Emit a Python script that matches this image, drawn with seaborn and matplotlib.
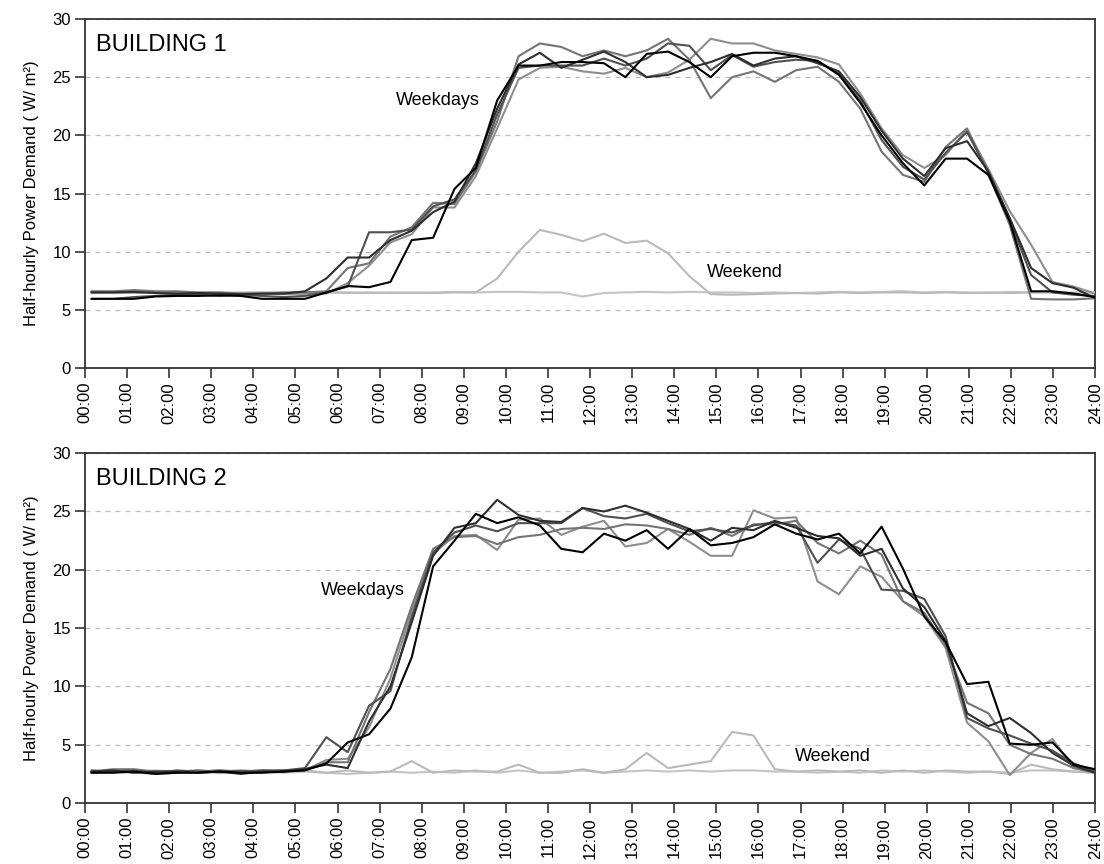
import numpy as np
import pandas as pd
import matplotlib
matplotlib.use("Agg")
import matplotlib.pyplot as plt
import seaborn as sns

# ---- data: 48 half-hourly readings per day (W/m2) ----
hour_labels = [f"{h:02d}:00" for h in range(25)]

b1_day1 = [5.95, 5.95, 5.95, 6.15, 6.2, 6.2, 6.25, 6.2, 5.95, 5.95, 5.95,
           6.5, 7.05, 6.95, 7.4, 11.0, 11.2, 15.4, 17.2, 23.0, 26.0, 26.0,
           26.3, 26.3, 26.2, 25.0, 27.0, 27.2, 26.3, 25.0, 26.8, 27.1, 27.1, 26.8, 26.4, 25.2,
           22.8, 20.0, 17.6, 15.7, 18.0, 18.0, 16.6, 12.6, 6.6, 6.6, 6.4, 6.1]
b1_day2 = [6.5, 6.5, 6.55, 6.45, 6.4, 6.45, 6.4, 6.35, 6.4, 6.4, 6.6,
           7.7, 9.5, 9.5, 11.0, 11.8, 13.4, 14.3, 17.6, 22.3, 26.1, 27.1,
           25.8, 26.5, 27.2, 26.3, 25.0, 25.2, 25.8, 26.3, 27.0, 26.0, 26.6, 26.8, 26.2, 25.5,
           23.3, 20.4, 18.0, 16.5, 18.9, 19.5, 16.9, 12.9, 8.6, 7.3, 6.9, 6.0]
b1_day3 = [5.95, 5.95, 6.1, 6.2, 6.3, 6.3, 6.2, 6.3, 6.2, 6.1, 6.2,
           6.5, 7.0, 11.67, 11.67, 11.9, 13.9, 14.5, 17.0, 21.8, 25.8, 26.0,
           26.0, 26.0, 26.6, 26.0, 26.6, 27.9, 27.7, 25.6, 26.9, 25.9, 26.3, 26.5, 26.4, 25.3,
           23.0, 19.6, 17.3, 16.2, 18.5, 20.3, 16.8, 12.7, 8.0, 6.5, 6.3, 6.2]
b1_day4 = [6.6, 6.6, 6.7, 6.6, 6.6, 6.5, 6.5, 6.4, 6.4, 6.5, 6.5,
           6.6, 8.6, 9.0, 11.3, 12.1, 14.2, 14.1, 16.9, 21.2, 26.8, 27.9,
           27.6, 26.8, 27.3, 26.8, 27.3, 28.3, 26.5, 23.2, 25.0, 25.5, 24.6, 25.6, 25.9, 24.6,
           22.3, 18.6, 16.6, 16.0, 19.0, 20.6, 16.7, 12.3, 5.95, 5.9, 5.9, 6.0]
b1_day5 = [6.5, 6.5, 6.5, 6.5, 6.45, 6.45, 6.4, 6.4, 6.4, 6.35, 6.4,
           6.4, 7.3, 8.8, 10.8, 11.5, 13.8, 13.8, 16.5, 20.6, 24.8, 25.8,
           25.9, 25.5, 25.3, 25.8, 25.0, 25.4, 26.5, 28.3, 27.9, 27.9, 27.3, 27.0, 26.7, 26.1,
           23.6, 20.6, 18.3, 17.2, 18.3, 20.5, 17.1, 13.5, 10.6, 7.4, 7.0, 6.4]
b1_weekend1 = [6.55, 6.5, 6.6, 6.55, 6.5, 6.5, 6.45, 6.5, 6.5, 6.45, 6.5, 6.5,
               6.45, 6.5, 6.45, 6.45, 6.5, 6.55, 6.5, 6.55, 6.55, 6.5, 6.5, 6.15,
               6.45, 6.5, 6.55, 6.5, 6.55, 6.5, 6.5, 6.45, 6.5, 6.45, 6.5, 6.55,
               6.5, 6.55, 6.6, 6.5, 6.55, 6.5, 6.45, 6.55, 6.5, 6.5, 6.5, 6.5]
b1_weekend2 = [6.45, 6.5, 6.45, 6.5, 6.5, 6.45, 6.5, 6.45, 6.5, 6.5, 6.45, 6.5,
               6.5, 6.45, 6.5, 6.5, 6.45, 6.5, 6.5, 7.7, 10.0, 11.87, 11.45, 10.9,
               11.55, 10.75, 10.95, 9.86, 7.9, 6.35, 6.3, 6.35, 6.4, 6.45, 6.4, 6.5,
               6.45, 6.5, 6.5, 6.45, 6.5, 6.45, 6.5, 6.45, 6.5, 6.5, 6.45, 6.5]

b2_day1 = [2.6, 2.6, 2.7, 2.5, 2.6, 2.6, 2.7, 2.6, 2.6, 2.7, 2.8,
           3.4, 5.2, 5.9, 8.1, 12.5, 20.3, 22.5, 24.8, 24.0, 24.5, 23.8,
           21.8, 21.5, 23.1, 22.5, 23.4, 21.8, 23.5, 22.1, 22.3, 22.8, 23.9,
           23.1, 22.6, 23.1, 21.4, 23.7, 20.1, 16.0, 13.8, 10.2, 10.4, 5.1, 5.0, 5.2, 3.3, 2.9]
b2_day2 = [2.7, 2.8, 2.6, 2.7, 2.7, 2.6, 2.7, 2.5, 2.7, 2.7, 2.9,
           3.3, 3.0, 7.0, 10.0, 15.5, 21.2, 23.6, 24.0, 26.0, 24.7, 24.2,
           24.1, 25.3, 25.0, 25.5, 24.9, 24.2, 23.5, 22.5, 23.6, 23.4, 24.2,
           23.6, 22.9, 22.7, 21.2, 21.8, 18.4, 16.8, 13.9, 7.7, 6.6, 7.3, 6.0, 4.3, 3.2, 2.6]
b2_day3 = [2.8, 2.7, 2.8, 2.6, 2.8, 2.7, 2.8, 2.7, 2.8, 2.8, 3.0,
           5.65, 4.36, 8.35, 9.6, 16.0, 21.5, 23.2, 23.8, 23.3, 24.0, 24.0,
           24.0, 25.3, 24.6, 24.4, 24.8, 24.0, 23.3, 23.5, 23.2, 23.8, 24.1,
           23.8, 20.6, 22.6, 21.8, 18.3, 18.2, 17.5, 14.3, 7.3, 6.4, 5.8, 5.1, 4.5, 3.4, 2.7]
b2_day4 = [2.7, 2.9, 2.9, 2.7, 2.7, 2.8, 2.7, 2.8, 2.7, 2.8, 2.9,
           3.5, 3.5, 7.8, 11.5, 16.9, 21.8, 22.8, 22.9, 22.2, 22.8, 23.0,
           23.5, 23.6, 23.5, 23.9, 23.8, 23.5, 23.0, 23.6, 22.9, 23.9, 23.9,
           24.2, 22.3, 21.4, 22.5, 21.3, 17.3, 16.3, 13.5, 8.6, 7.7, 5.0, 4.2, 3.8, 3.0, 2.6]
b2_day5 = [2.6, 2.8, 2.8, 2.7, 2.6, 2.8, 2.6, 2.7, 2.8, 2.7, 2.8,
           3.7, 3.8, 6.5, 10.7, 16.5, 21.4, 22.9, 23.0, 21.7, 24.3, 24.4,
           23.0, 23.7, 24.2, 22.0, 22.3, 23.5, 22.4, 21.2, 21.2, 25.1, 24.4,
           24.5, 19.0, 17.9, 20.3, 19.4, 17.3, 16.0, 13.3, 6.9, 5.3, 2.4, 4.3, 5.5, 3.0, 2.7]
b2_weekend1 = [2.6, 2.7, 2.6, 2.5, 2.6, 2.7, 2.6, 2.6, 2.7, 2.6, 2.7, 2.6,
               2.5, 2.6, 2.7, 2.6, 2.7, 2.6, 2.8, 2.6, 2.8, 2.6, 2.7, 2.8,
               2.6, 2.7, 2.8, 2.7, 2.8, 2.7, 2.8, 2.8, 2.7, 2.7, 2.6, 2.7,
               2.6, 2.8, 2.7, 2.8, 2.7, 2.6, 2.7, 2.6, 2.8, 2.8, 2.7, 2.6]
b2_weekend2 = [2.7, 2.8, 2.7, 2.8, 2.7, 2.7, 2.8, 2.7, 2.7, 2.8, 2.8, 2.6,
               2.8, 2.6, 2.7, 3.6, 2.6, 2.8, 2.7, 2.7, 3.3, 2.6, 2.6, 2.9,
               2.6, 2.9, 4.3, 3.0, 3.3, 3.6, 6.1, 5.8, 2.9, 2.7, 2.8, 2.7,
               2.8, 2.6, 2.8, 2.6, 2.8, 2.7, 2.7, 2.5, 3.3, 2.9, 2.7, 2.6]

series_names = ["Weekend 1", "Weekend 2", "Day 5", "Day 4", "Day 3", "Day 2", "Day 1"]
series_colors = ["#c4c4c4", "#bababa", "#8e8e8e", "#747474", "#505050", "#2e2e2e", "#000000"]

buildings = {
    "BUILDING 1": [b1_weekend1, b1_weekend2, b1_day5, b1_day4, b1_day3, b1_day2, b1_day1],
    "BUILDING 2": [b2_weekend1, b2_weekend2, b2_day5, b2_day4, b2_day3, b2_day2, b2_day1],
}
label_spots = {
    "BUILDING 1": {"Weekdays": (16.2, 23.0), "Weekend": (30.6, 8.2)},
    "BUILDING 2": {"Weekdays": (12.7, 18.2), "Weekend": (34.7, 4.0)},
}


def long_frame(rows):
    frames = []
    for name, vals in zip(series_names, rows):
        frames.append(pd.DataFrame({"slot": np.arange(len(vals)),
                                    "demand": vals, "series": name}))
    return pd.concat(frames, ignore_index=True)


sns.set_style("white")
plt.rcParams["font.family"] = ["Liberation Sans", "DejaVu Sans"]
plt.rcParams["text.color"] = "black"
plt.rcParams["axes.labelcolor"] = "black"
plt.rcParams["xtick.color"] = "black"
plt.rcParams["ytick.color"] = "black"

fig = plt.figure(figsize=(11.04, 8.64), dpi=100)
axes = [fig.add_axes([0.077, 0.574, 0.915, 0.404]),
        fig.add_axes([0.077, 0.0705, 0.915, 0.405])]

# hour ticks placed on the half-hour slot scale
hour_ticks = np.linspace(-0.3, 47.0, 25)
palette = dict(zip(series_names, series_colors))

for ax, (title, rows) in zip(axes, buildings.items()):
    df = long_frame(rows)
    sns.lineplot(data=df, x="slot", y="demand", hue="series",
                 hue_order=series_names, palette=palette,
                 linewidth=1.5, legend=False, ax=ax, zorder=3)
    ax.set_xlim(hour_ticks[0], hour_ticks[-1])
    ax.set_ylim(0, 30)
    ax.set_yticks(range(0, 31, 5))
    ax.set_xticks(hour_ticks)
    ax.set_xticklabels(hour_labels, rotation=90, fontsize=12)
    ax.tick_params(axis="y", labelsize=12)
    ax.tick_params(axis="both", direction="out", length=7, width=1.2,
                   color="#333333", labelcolor="black", pad=3,
                   bottom=True, left=True)
    ax.yaxis.grid(True, linestyle=(0, (4, 4)), color="#bdbdbd", linewidth=0.9)
    ax.xaxis.grid(False)
    ax.set_axisbelow(True)
    for sp in ax.spines.values():
        sp.set_color("#333333")
        sp.set_linewidth(1.3)
    ax.set_xlabel("")
    ax.set_ylabel("Half-hourly Power Demand ( W/ m\u00b2)", fontsize=12,
                  labelpad=10, color="black")
    ax.text(0.011, 0.925, title, transform=ax.transAxes, fontsize=17,
            ha="left", va="center", color="black")
    for txt, (sx, sy) in label_spots[title].items():
        ax.text(sx, sy, txt, fontsize=13, ha="center", va="center",
                color="black", zorder=4)

fig.savefig("out.png", dpi=100)
